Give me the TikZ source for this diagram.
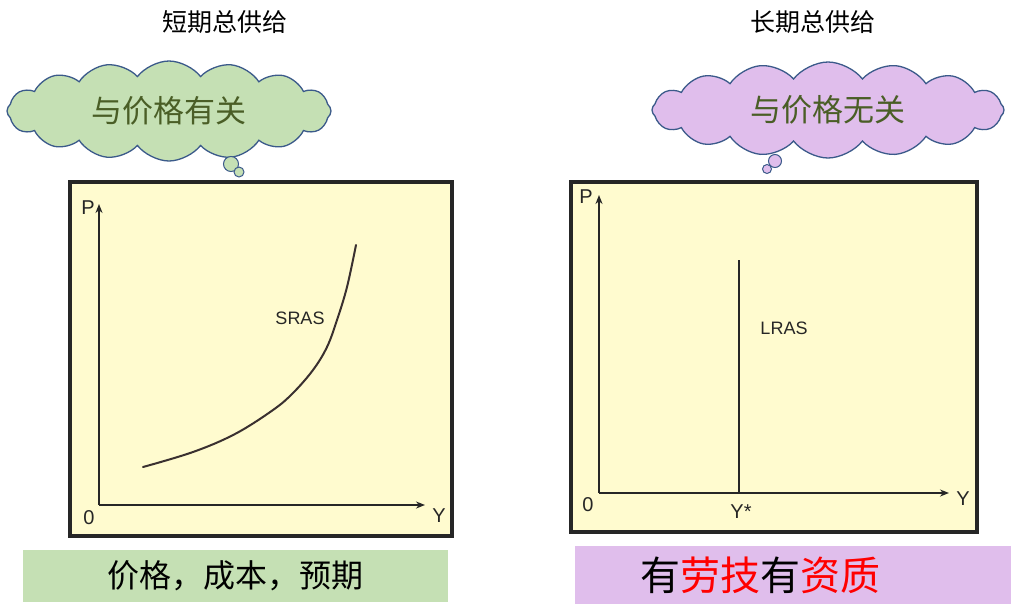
\documentclass[tikz,border=0pt]{standalone}
\usepackage{fontspec}
\setmainfont{Liberation Sans}
\newfontfamily\cjk{Noto Sans CJK SC}
\usetikzlibrary{shapes.symbols,arrows.meta}
\definecolor{cloudgreen}{HTML}{C5E0B4}
\definecolor{cloudpurple}{HTML}{E0BEEC}
\definecolor{cloudline}{HTML}{3B5A8A}
\definecolor{darkgreentext}{HTML}{4A5E26}
\definecolor{boxyellow}{HTML}{FFFBCF}
\definecolor{curvecol}{HTML}{3A3030}
\tikzset{
  title/.style={font=\cjk\fontsize{25}{28}\selectfont, inner sep=0pt},
  thought/.style={cloud, cloud puffs=16, cloud puff arc=105, cloud ignores aspect, draw=cloudline, line width=1.3pt, inner sep=0pt, font=\cjk\fontsize{31}{34}\selectfont, text=darkgreentext},
  bubble/.style={circle, draw=cloudline, line width=1pt, inner sep=0pt},
  graphbox/.style={draw=black!85, line width=3.5pt, fill=boxyellow},
  axis/.style={line width=1.5pt, draw=black!85, -{Stealth[length=9pt,width=7pt]}},
  axlabel/.style={font=\fontsize{20}{22}\selectfont, inner sep=0pt, text=black!85},
  curvelabel/.style={font=\fontsize{18}{20}\selectfont, inner sep=0pt, text=black!85},
  factbox/.style={inner sep=0pt, font=\cjk\selectfont}
}
\begin{document}
\begin{tikzpicture}[x=1pt,y=-1pt]
\useasboundingbox (0,0) rectangle (1018,603);
% titles
\node[title] (t1) at (225,22) {短期总供给};
\node[title] (t2) at (813,22) {长期总供给};
% clouds
\node[thought, fill=cloudgreen, minimum width=324pt, minimum height=100pt] (c1) at (169,111) {与价格有关};
\node[bubble, fill=cloudgreen, minimum size=15pt] (b1) at (231,164) {};
\node[bubble, fill=cloudgreen, minimum size=10pt] (b2) at (239,172) {};
\node[thought, fill=cloudpurple, minimum width=352pt, minimum height=96pt] (c2) at (828,110) {与价格无关};
\node[bubble, fill=cloudpurple, minimum size=13pt] (b3) at (775,161) {};
\node[bubble, fill=cloudpurple, minimum size=9pt] (b4) at (767,169) {};
% left graph
\draw[graphbox] (70,182) rectangle (452,536);
\coordinate (o1) at (99,505);
\coordinate (py1) at (99,204);
\coordinate (px1) at (425,505);
\draw[axis] (o1) -- (py1);
\draw[axis] (o1) -- (px1);
\node[axlabel] (p1) at (88,208) {P};
\node[axlabel] (z1) at (89,518) {0};
\node[axlabel] (y1) at (439,516) {Y};
\draw[line width=2pt, curvecol, line cap=round] plot[smooth, tension=0.6] coordinates {(143,467) (193,452) (235,434) (273,410) (293,393) (313,370) (327,347) (337,320) (347,287) (356,245)};
\node[curvelabel] (sras) at (300,318) {SRAS};
% right graph
\draw[graphbox] (571,182) rectangle (977,532);
\coordinate (o2) at (599,493);
\coordinate (py2) at (599,195);
\coordinate (px2) at (949,493);
\draw[axis] (o2) -- (py2);
\draw[axis] (o2) -- (px2);
\node[axlabel] (p2) at (586,197) {P};
\node[axlabel] (z2) at (588,505) {0};
\node[axlabel] (y2) at (963,499) {Y};
\coordinate (ltop) at (739,260);
\coordinate (lbot) at (739,493);
\draw[line width=1.5pt, black!85] (ltop) -- (lbot);
\node[axlabel] (ystar) at (741,512) {Y*};
\node[curvelabel] (lras) at (784,328) {LRAS};
% bottom boxes
\node[factbox, fill=cloudgreen, minimum width=425pt, minimum height=52pt, font=\cjk\fontsize{32}{36}\selectfont] (f1) at (235,576) {价格，成本，预期};
\node[factbox, fill=cloudpurple, minimum width=436pt, minimum height=58pt, font=\cjk\fontsize{40}{44}\selectfont] (f2) at (793,575) {\hspace*{-66pt}有\textcolor{red}{劳技}有\textcolor{red}{资质}};
\end{tikzpicture}
\end{document}
